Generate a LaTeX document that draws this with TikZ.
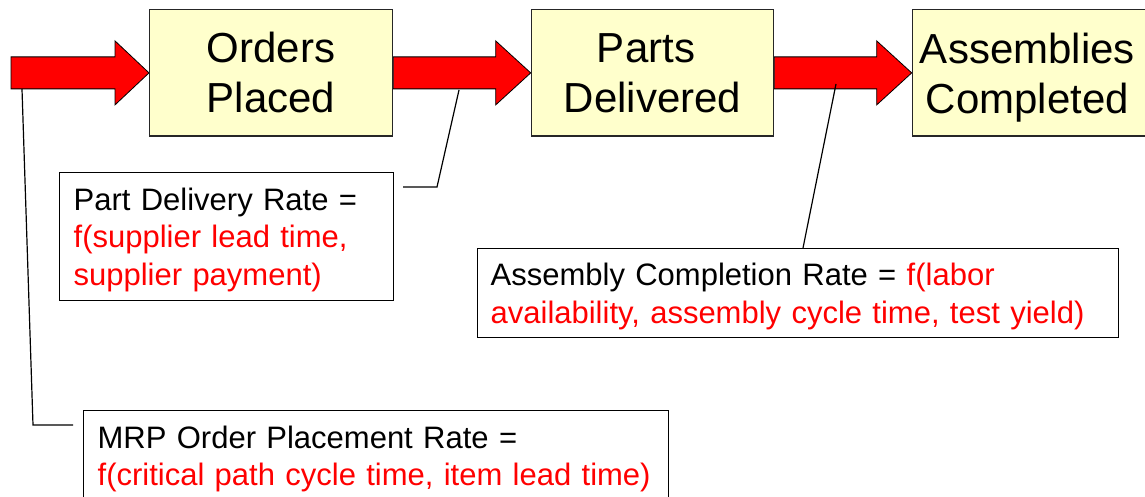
\documentclass[tikz,border=0pt]{standalone}
\usepackage{fontspec}
\setmainfont{Liberation Sans}
\usetikzlibrary{calc,backgrounds}
\definecolor{boxfill}{HTML}{FFFFCC}
\definecolor{flowred}{HTML}{FF0000}
\newcommand{\nodepth}[1]{\raisebox{0pt}[\height][0pt]{#1}}
\begin{document}
\begin{tikzpicture}[x=1pt,y=-1pt,
  stage/.style={draw=black!85, line width=1.3pt, fill=boxfill, inner sep=0pt,
    font=\fontsize{42}{50}\selectfont, align=center, anchor=north west},
  note/.style={draw=black, line width=1.3pt, fill=white, inner xsep=14pt, inner ysep=0pt,
    font=\fontsize{31}{37.5}\selectfont, align=left, anchor=north west},
  flow/.style={fill=flowred, draw=black, line width=0.8pt, line join=miter},
  lead/.style={draw=black, line width=1.2pt},
  hl/.style={text=flowred}]
\path[use as bounding box, clip] (0,0) rectangle (1145,497);

% stage boxes
\node[stage, minimum width=243pt, minimum height=126.5pt] (op) at (149,9) {Orders\\Placed};
\node[stage, minimum width=242.3pt, minimum height=126.5pt] (pd) at (530.7,9)
  {Parts\hspace*{13pt}\\Delivered};
\node[stage, minimum width=243pt, minimum height=126.5pt] (ac) at (911.7,9)
  {Assemblies\hspace*{13pt}\\\nodepth{Completed}\hspace*{13pt}};

% flow arrows
\coordinate (s1) at (11,72);
\begin{pgfonlayer}{background}
\path[flow] let \p1=(s1), \p2=(op.west) in
  (\x2,\y2) -- (\x2-34pt,\y2+32pt) -- (\x2-34pt,\y2+16pt) -- (\x1,\y2+16pt)
  -- (\x1,\y2-16pt) -- (\x2-34pt,\y2-16pt) -- (\x2-34pt,\y2-32pt) -- cycle;
\path[flow] let \p1=(op.east), \p2=(pd.west) in
  (\x2,\y2) -- (\x2-35pt,\y2+32pt) -- (\x2-35pt,\y2+16pt) -- (\x1,\y2+16pt)
  -- (\x1,\y2-16pt) -- (\x2-35pt,\y2-16pt) -- (\x2-35pt,\y2-32pt) -- cycle;
\path[flow] let \p1=(pd.east), \p2=(ac.west) in
  (\x2,\y2) -- (\x2-35pt,\y2+32pt) -- (\x2-35pt,\y2+16pt) -- (\x1,\y2+16pt)
  -- (\x1,\y2-16pt) -- (\x2-35pt,\y2-16pt) -- (\x2-35pt,\y2-32pt) -- cycle;
\end{pgfonlayer}

% rate notes
\node[note, text width=305.7pt, minimum height=128pt] (pdr) at (59,172)
  {Part Delivery Rate =\\\textcolor{flowred}{f(supplier lead time,}\\\nodepth{\textcolor{flowred}{supplier payment)}}};
\node[note, inner xsep=13pt, text width=615pt, minimum height=89pt] (acr) at (477,248)
  {Assembly Completion Rate = \textcolor{flowred}{f(labor}\\\nodepth{\textcolor{flowred}{availability, assembly cycle time, test yield)}}};
\node[note, inner ysep=15pt, text width=557pt] (mrp) at (83,410)
  {MRP Order Placement Rate =\\\textcolor{flowred}{f(critical path cycle time, item lead time)}};

% leader lines
\coordinate (m0) at (22,89);
\coordinate (m1) at (33,425);
\coordinate (m2) at (73,425);
\draw[lead] (m0) -- (m1) -- (m2);
\coordinate (p0) at (459,90);
\coordinate (p1) at (437,187);
\coordinate (p2) at (403,187);
\draw[lead] (p0) -- (p1) -- (p2);
\coordinate (a0) at (836,84);
\draw[lead] (a0) -- (acr.north -| 803,0);
\end{tikzpicture}
\end{document}
